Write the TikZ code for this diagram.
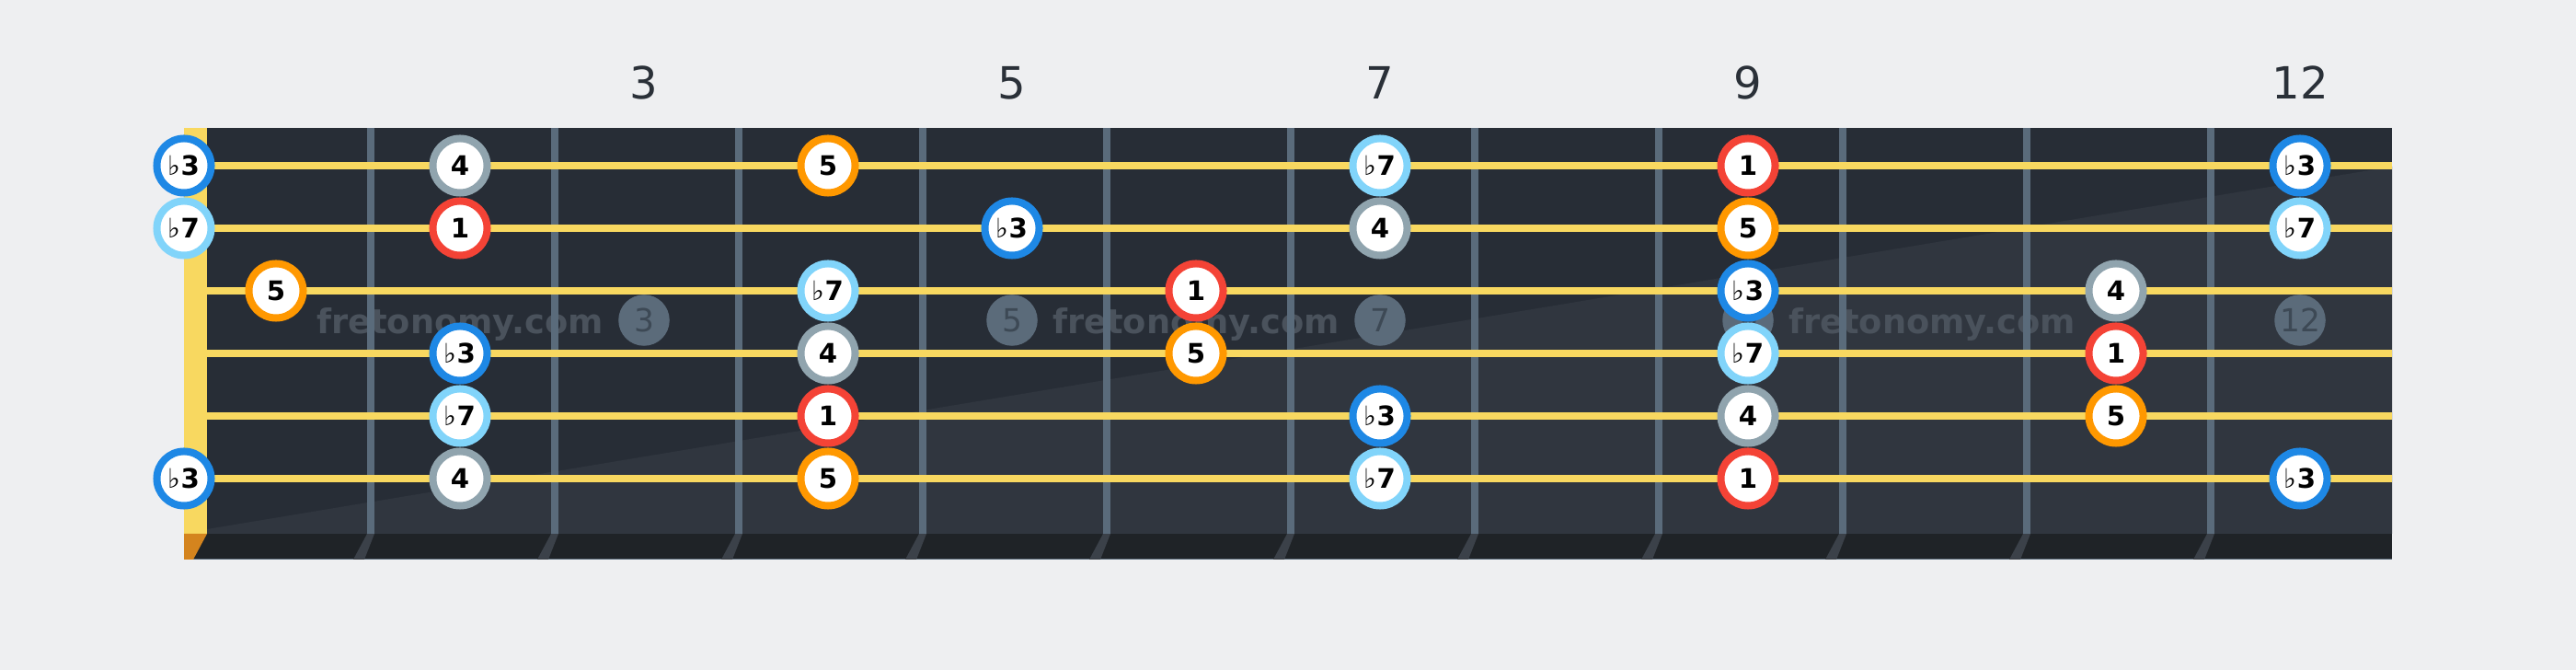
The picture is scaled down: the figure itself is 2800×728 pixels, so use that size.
\documentclass[tikz,border=0pt]{standalone}
\usepackage{fontspec}
\setmainfont{DejaVu Sans}
\usepackage{tikz}

\definecolor{bgcol}{HTML}{EEEFF1}
\definecolor{boarddark}{HTML}{272D36}
\definecolor{boardlight}{HTML}{30363F}
\definecolor{bandcol}{HTML}{1F2327}
\definecolor{fretcol}{HTML}{5A6B7B}
\definecolor{slashcol}{HTML}{3B4149}
\definecolor{stringcol}{HTML}{F8D860}
\definecolor{nutcol}{HTML}{D4841E}
\definecolor{wmcol}{HTML}{4A525C}
\definecolor{markercol}{HTML}{5B6B7A}
\definecolor{markertext}{HTML}{3D4955}
\definecolor{fretnumcol}{HTML}{2A3038}
\definecolor{rootcol}{HTML}{F44336}
\definecolor{thirdcol}{HTML}{1E88E5}
\definecolor{fourthcol}{HTML}{90A4AE}
\definecolor{fifthcol}{HTML}{FF9800}
\definecolor{seventhcol}{HTML}{81D4FA}

\newcommand\flt{{\mdseries ♭}}

\tikzset{
	note/.style={circle, draw, fill=white, line width=0.08cm, minimum size=0.59cm,
		inner sep=0pt, font=\fontsize{8.3}{10}\selectfont\bfseries},
	rootnote/.style={note, draw=rootcol},
	thirdnote/.style={note, draw=thirdcol},
	fourthnote/.style={note, draw=fourthcol},
	fifthnote/.style={note, draw=fifthcol},
	seventhnote/.style={note, draw=seventhcol},
	fretwire/.style={fretcol, line width=0.08cm},
	gstring/.style={stringcol, line width=0.075cm},
	marker/.style={circle, fill=markercol, minimum size=0.555cm, inner sep=0pt,
		text=markertext, font=\fontsize{9.8}{11}\selectfont},
	watermark/.style={anchor=base, text=wmcol, inner sep=0pt,
		font=\fontsize{10.45}{12}\selectfont\bfseries},
	fretnum/.style={text=fretnumcol, inner sep=0pt, font=\fontsize{13.7}{16}\selectfont}
}

\begin{document}
\begin{tikzpicture}[x=0.01cm, y=-0.01cm]
	\useasboundingbox[fill=bgcol] (0,0) rectangle (2800,728);

	\coordinate(tl) at (225,139);
	\coordinate(br) at (2600,580);
	\fill[boarddark] (tl) rectangle (br);
	\fill[boardlight] (225,575) -- (2600,181) -- (br) -- (225,580) -- cycle;
	\fill[bandcol] (200,580) rectangle (2600,608);
	\draw[fretcol, line width=0.01cm] (200,608) -- (2600,608);
	\fill[stringcol] (200,139) rectangle (225,580);
	\fill[nutcol] (200,580) -- (225,580) -- (210,608) -- (200,608) -- cycle;

	\node[watermark] (wm1) at (500,363) {fretonomy.com};
	\node[watermark] (wm2) at (1300,363) {fretonomy.com};
	\node[watermark] (wm3) at (2100,363) {fretonomy.com};
	\node[marker] (m3) at (700,348) {3};
	\node[marker] (m5) at (1100,348) {5};
	\node[marker] (m7) at (1500,348) {7};
	\node[marker] (m9) at (1900,348) {9};
	\node[marker] (m12) at (2500,348) {12};

	\fill[slashcol] (399,580) -- ++(8,0) -- ++(-11,28) -- ++(-12,0) -- cycle
		(599,580) -- ++(8,0) -- ++(-11,28) -- ++(-12,0) -- cycle
		(799,580) -- ++(8,0) -- ++(-11,28) -- ++(-12,0) -- cycle
		(999,580) -- ++(8,0) -- ++(-11,28) -- ++(-12,0) -- cycle
		(1199,580) -- ++(8,0) -- ++(-11,28) -- ++(-12,0) -- cycle
		(1399,580) -- ++(8,0) -- ++(-11,28) -- ++(-12,0) -- cycle
		(1599,580) -- ++(8,0) -- ++(-11,28) -- ++(-12,0) -- cycle
		(1799,580) -- ++(8,0) -- ++(-11,28) -- ++(-12,0) -- cycle
		(1999,580) -- ++(8,0) -- ++(-11,28) -- ++(-12,0) -- cycle
		(2199,580) -- ++(8,0) -- ++(-11,28) -- ++(-12,0) -- cycle
		(2399,580) -- ++(8,0) -- ++(-11,28) -- ++(-12,0) -- cycle;

	\draw[fretwire] (403,139) -- (403,580) (603,139) -- (603,580)
		(803,139) -- (803,580) (1003,139) -- (1003,580)
		(1203,139) -- (1203,580) (1403,139) -- (1403,580)
		(1603,139) -- (1603,580) (1803,139) -- (1803,580)
		(2003,139) -- (2003,580) (2203,139) -- (2203,580)
		(2403,139) -- (2403,580);

	\draw[gstring] (225,180) -- (2600,180);
	\draw[gstring] (225,248) -- (2600,248);
	\draw[gstring] (225,316) -- (2600,316);
	\draw[gstring] (225,384) -- (2600,384);
	\draw[gstring] (225,452) -- (2600,452);
	\draw[gstring] (225,520) -- (2600,520);

	\node[fretnum] (f3) at (700,90) {3};
	\node[fretnum] (f5) at (1100,90) {5};
	\node[fretnum] (f7) at (1500,90) {7};
	\node[fretnum] (f9) at (1900,90) {9};
	\node[fretnum] (f12) at (2500,90) {12};

	\node[thirdnote] (s1f0) at (200,180) {\flt3};
	\node[fourthnote] (s1f2) at (500,180) {4};
	\node[fifthnote] (s1f4) at (900,180) {5};
	\node[seventhnote] (s1f7) at (1500,180) {\flt7};
	\node[rootnote] (s1f9) at (1900,180) {1};
	\node[thirdnote] (s1f12) at (2500,180) {\flt3};

	\node[seventhnote] (s2f0) at (200,248) {\flt7};
	\node[rootnote] (s2f2) at (500,248) {1};
	\node[thirdnote] (s2f5) at (1100,248) {\flt3};
	\node[fourthnote] (s2f7) at (1500,248) {4};
	\node[fifthnote] (s2f9) at (1900,248) {5};
	\node[seventhnote] (s2f12) at (2500,248) {\flt7};

	\node[fifthnote] (s3f1) at (300,316) {5};
	\node[seventhnote] (s3f4) at (900,316) {\flt7};
	\node[rootnote] (s3f6) at (1300,316) {1};
	\node[thirdnote] (s3f9) at (1900,316) {\flt3};
	\node[fourthnote] (s3f11) at (2300,316) {4};

	\node[thirdnote] (s4f2) at (500,384) {\flt3};
	\node[fourthnote] (s4f4) at (900,384) {4};
	\node[fifthnote] (s4f6) at (1300,384) {5};
	\node[seventhnote] (s4f9) at (1900,384) {\flt7};
	\node[rootnote] (s4f11) at (2300,384) {1};

	\node[seventhnote] (s5f2) at (500,452) {\flt7};
	\node[rootnote] (s5f4) at (900,452) {1};
	\node[thirdnote] (s5f7) at (1500,452) {\flt3};
	\node[fourthnote] (s5f9) at (1900,452) {4};
	\node[fifthnote] (s5f11) at (2300,452) {5};

	\node[thirdnote] (s6f0) at (200,520) {\flt3};
	\node[fourthnote] (s6f2) at (500,520) {4};
	\node[fifthnote] (s6f4) at (900,520) {5};
	\node[seventhnote] (s6f7) at (1500,520) {\flt7};
	\node[rootnote] (s6f9) at (1900,520) {1};
	\node[thirdnote] (s6f12) at (2500,520) {\flt3};
\end{tikzpicture}
\end{document}
